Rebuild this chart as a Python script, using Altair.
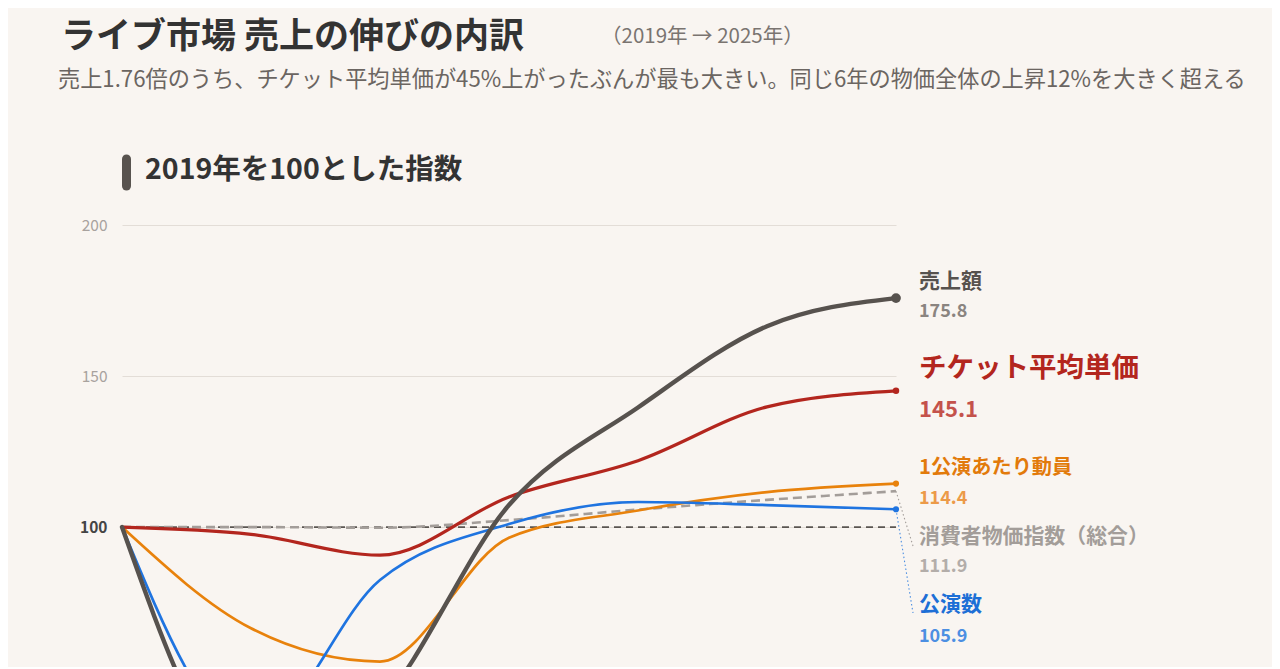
import altair as alt
import pandas as pd

# ---- data (index, 2019 = 100) ----
years = [2019, 2020, 2021, 2022, 2023, 2024, 2025]
sales = [100, 19.7, 41.5, 107.3, 139.6, 166.5, 175.8]
ticket = [100, 97.6, 90.7, 110.0, 122.0, 139.8, 145.1]
per_show = [100, 66.5, 55.5, 96.5, 105.5, 111.6, 114.4]
shows = [100, 31.5, 82.5, 101.0, 108.3, 107.3, 105.9]
cpi = [100, 100.0, 99.8, 102.3, 105.8, 109.0, 111.9]

series_names = ["売上額", "チケット平均単価", "1公演あたり動員", "消費者物価指数（総合）", "公演数"]
series_values = [sales, ticket, per_show, cpi, shows]
y_ticks = [100, 150, 200]

title_text = "ライブ市場 売上の伸びの内訳"
period_text = "（2019年 → 2025年）"
subtitle_text = "売上1.76倍のうち、チケット平均単価が45%上がったぶんが最も大きい。同じ6年の物価全体の上昇12%を大きく超える"
section_text = "2019年を100とした指数"

FONT = "Noto Sans CJK JP"
BG = "#f9f5f1"

rows = []
for name, vals in zip(series_names, series_values):
    for yr, v in zip(years, vals):
        rows.append({"series": name, "year": yr, "value": v})
df = pd.DataFrame(rows)
last = df[df["year"] == years[-1]].copy()
last["label"] = last["value"].map(lambda v: f"{v:.1f}")

X = alt.X("year:Q", scale=alt.Scale(domain=[years[0], years[-1]], nice=False, zero=False), axis=None)
Y = alt.Y(
    "value:Q",
    scale=alt.Scale(domain=[57, 200], nice=False, zero=False),
    title=None,
    axis=alt.Axis(
        values=y_ticks,
        grid=True,
        gridColor="#e3ddd7",
        gridWidth=1,
        domain=False,
        ticks=False,
        labelPadding=15,
        labelFontSize=15.5,
        labelFont=FONT,
        labelColor={"expr": "datum.value == 100 ? '#444444' : '#a8a29e'"},
        labelFontWeight={"expr": "datum.value == 100 ? 'bold' : 'normal'"},
    ),
)

style = {
    "売上額": dict(color="#57524e", width=4.4, dash=None, dot=95),
    "チケット平均単価": dict(color="#b3261e", width=3.2, dash=None, dot=42),
    "1公演あたり動員": dict(color="#e8820c", width=2.7, dash=None, dot=38),
    "消費者物価指数（総合）": dict(color="#a39d99", width=2.6, dash=[9, 5], dot=None),
    "公演数": dict(color="#1f74e0", width=2.7, dash=None, dot=38),
}

labels = {
    "売上額": dict(c1="#57524e", s1=21, d1=-16, c2="#8a8480", s2=18, d2=14),
    "チケット平均単価": dict(c1="#b3261e", s1=27.5, d1=-22, c2="#c4524b", s2=22, d2=19),
    "1公演あたり動員": dict(c1="#e27a0a", s1=20.2, d1=-16, c2="#ec9a48", s2=18, d2=15),
    "消費者物価指数（総合）": dict(c1="#a39d99", s1=20.9, d1=46, c2="#b3ada9", s2=18, d2=76),
    "公演数": dict(c1="#1d6fd6", s1=21, d1=96, c2="#4c8fe2", s2=18, d2=128),
}

layers = []

# reference line at 100
ref_df = pd.DataFrame({"year": [years[0]], "year2": [years[-1]], "value": [100]})
layers.append(
    alt.Chart(ref_df).mark_rule(color="#5a5551", strokeWidth=1.6, strokeDash=[7, 5]).encode(
        x=X, x2="year2:Q", y=Y
    )
)

draw_order = ["消費者物価指数（総合）", "1公演あたり動員", "公演数", "チケット平均単価", "売上額"]
for name in draw_order:
    st = style[name]
    sdf = df[df["series"] == name]
    kw = dict(color=st["color"], strokeWidth=st["width"], interpolate="monotone", clip=False,
              strokeCap="round")
    if st["dash"]:
        kw["strokeDash"] = st["dash"]
        kw["strokeCap"] = "butt"
    layers.append(alt.Chart(sdf).mark_line(**kw).encode(x=X, y=Y))

# leader lines
leader_targets = {"消費者物価指数（総合）": (791, 321, "#a39d99"), "公演数": (791, 388, "#4c8fe2")}
for name, (tx, ty, col) in leader_targets.items():
    layers.append(
        alt.Chart(last[last["series"] == name]).mark_rule(
            color=col, strokeWidth=1.1, strokeDash=[1.5, 2.5]
        ).encode(x=X, y=Y, x2=alt.value(tx), y2=alt.value(ty))
    )

# end dots
for name in draw_order:
    st = style[name]
    if st["dot"]:
        layers.append(
            alt.Chart(last[last["series"] == name]).mark_circle(
                color=st["color"], size=st["dot"], opacity=1
            ).encode(x=X, y=Y)
        )

# end labels
for name in series_names:
    lb = labels[name]
    ldf = last[last["series"] == name]
    layers.append(
        alt.Chart(ldf).mark_text(
            align="left", baseline="middle", dx=23, dy=lb["d1"], font=FONT,
            fontSize=lb["s1"], fontWeight="bold", color=lb["c1"]
        ).encode(x=X, y=Y, text="series:N")
    )
    layers.append(
        alt.Chart(ldf).mark_text(
            align="left", baseline="middle", dx=23, dy=lb["d2"], font=FONT,
            fontSize=lb["s2"], fontWeight="bold", color=lb["c2"]
        ).encode(x=X, y=Y, text="label:N")
    )

# titles and section header
def text_layer(txt, x, y, size, color, weight="normal", baseline="middle"):
    return alt.Chart(pd.DataFrame({"t": [txt]})).mark_text(
        align="left", baseline=baseline, font=FONT, fontSize=size, fontWeight=weight, color=color
    ).encode(x=alt.value(x), y=alt.value(y), text="t:N")

layers.append(text_layer(title_text, -61, -177, 35, "#333333", "bold", baseline="alphabetic"))
layers.append(text_layer(period_text, 479, -188, 20.5, "#7a7470"))
layers.append(text_layer(subtitle_text, -64, -145, 22.2, "#6b6561"))
layers.append(text_layer(section_text, 23, -55, 28.5, "#333333", "bold"))
layers.append(
    alt.Chart(pd.DataFrame({"a": [0]})).mark_rule(
        color="#58534f", strokeWidth=9, strokeCap="round"
    ).encode(x=alt.value(4.5), y=alt.value(-66), y2=alt.value(-39))
)

chart = (
    alt.layer(*layers)
    .properties(
        width=774,
        height=432,
        padding={"left": 114, "top": 217, "right": 376, "bottom": 10},
        autosize=alt.AutoSizeParams(type="none"),
    )
    .configure(background=BG, font=FONT)
    .configure_view(stroke=None)
)

chart.save("out.html", embed_options={"renderer": "svg", "actions": False})
